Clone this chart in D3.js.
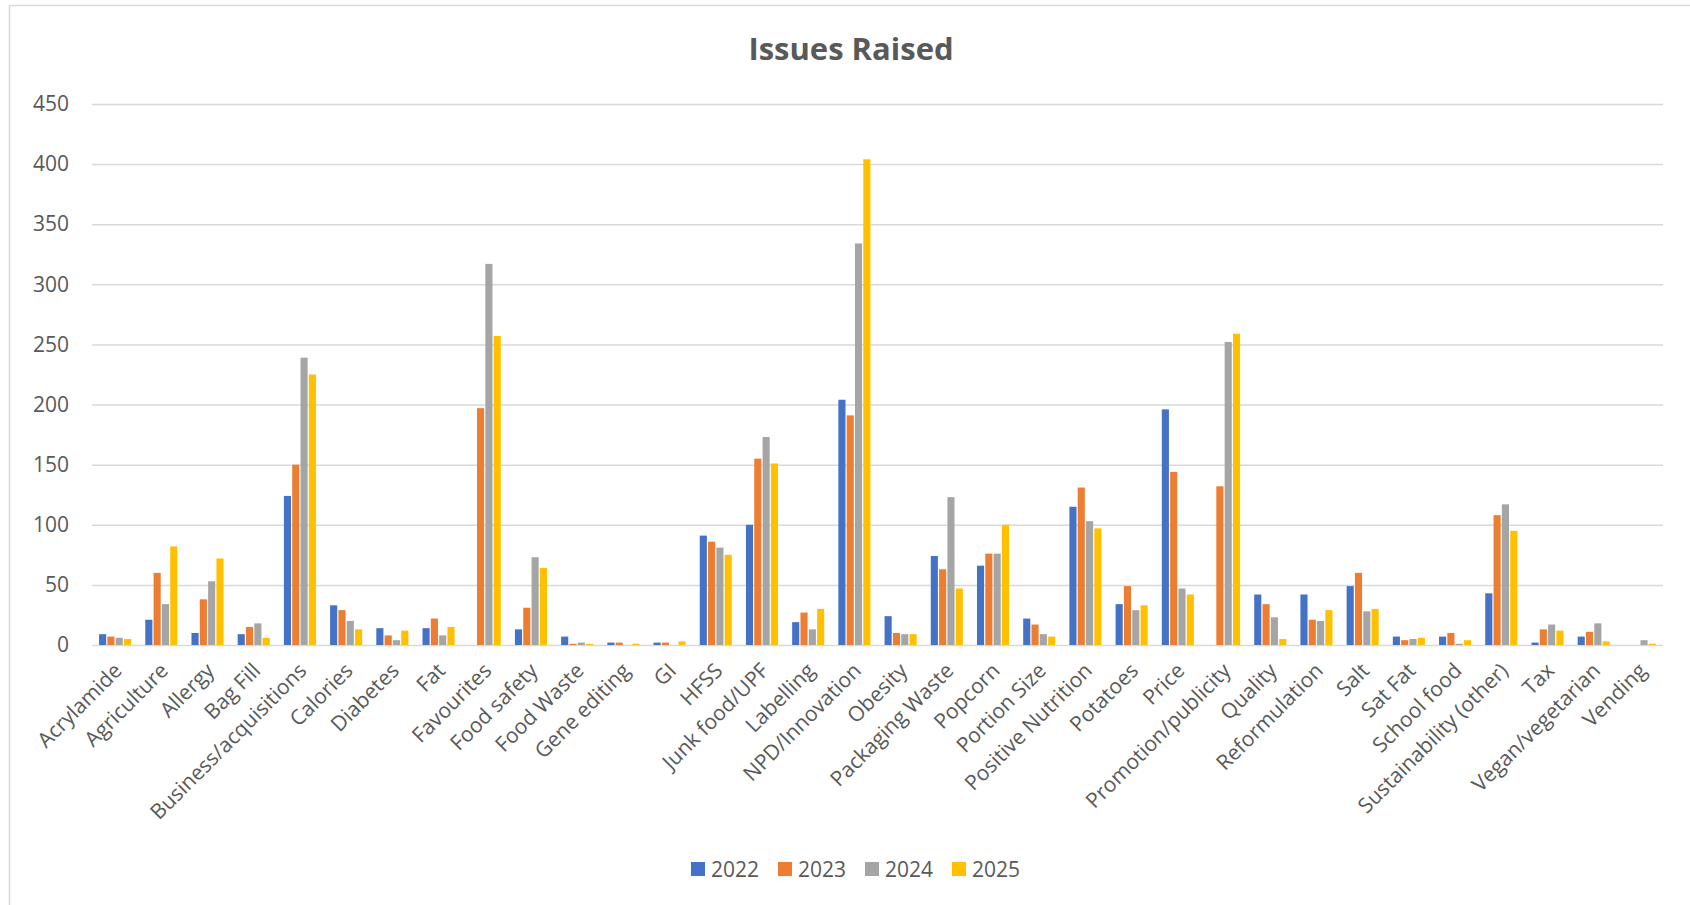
<!DOCTYPE html>
<html>
<head>
<meta charset="utf-8">
<script src="https://cdn.jsdelivr.net/npm/d3@7/dist/d3.min.js"></script>
<style>
  body { margin: 0; background: #fff; }
  svg { display: block; font-family: 'Open Sans', sans-serif; }
</style>
</head>
<body>
<svg id="chart"></svg>
<script>
const categories = ["Acrylamide", "Agriculture", "Allergy", "Bag Fill", "Business/acquisitions", "Calories",
    "Diabetes", "Fat", "Favourites", "Food safety", "Food Waste", "Gene editing", "GI", "HFSS",
    "Junk food/UPF", "Labelling", "NPD/Innovation", "Obesity", "Packaging Waste", "Popcorn",
    "Portion Size", "Positive Nutrition", "Potatoes", "Price", "Promotion/publicity", "Quality",
    "Reformulation", "Salt", "Sat Fat", "School food", "Sustainability (other)", "Tax",
    "Vegan/vegetarian", "Vending"];
const years = ["2022", "2023", "2024", "2025"];
const values2022 = [9, 21, 10, 9, 124, 33, 14, 14, 0, 13, 7, 2, 2, 91, 100, 19, 204, 24, 74, 66, 22, 115, 34, 196, 0, 42, 42, 49, 7, 7, 43, 2, 7, 0];
const values2023 = [7, 60, 38, 15, 150, 29, 8, 22, 197, 31, 1, 2, 2, 86, 155, 27, 191, 10, 63, 76, 17, 131, 49, 144, 132, 34, 21, 60, 4, 10, 108, 13, 11, 0];
const values2024 = [6, 34, 53, 18, 239, 20, 4, 8, 317, 73, 2, 0, 0, 81, 173, 13, 334, 9, 123, 76, 9, 103, 29, 47, 252, 23, 20, 28, 5, 1, 117, 17, 18, 4];
const values2025 = [5, 82, 72, 6, 225, 13, 12, 15, 257, 64, 1, 1, 3, 75, 151, 30, 404, 9, 47, 100, 7, 97, 33, 42, 259, 5, 29, 30, 6, 4, 95, 12, 3, 1];
const yTicks = [0, 50, 100, 150, 200, 250, 300, 350, 400, 450];
const colors = ["#4472C4", "#ED7D31", "#A5A5A5", "#FFC000"];

const seriesValues = [values2022, values2023, values2024, values2025];

const width = 1690;
const height = 905;
const plot = { left: 92, right: 1663, top: 104, bottom: 645 };

const svg = d3.select("#chart")
    .attr("width", width)
    .attr("height", height);

// chart area border
svg.append("rect")
    .attr("x", 9.5)
    .attr("y", 5.5)
    .attr("width", 1700)
    .attr("height", 940)
    .attr("fill", "#fff")
    .attr("stroke", "#d9d9d9")
    .attr("stroke-width", 1.5);

const x0 = d3.scaleBand()
    .domain(categories)
    .range([plot.left, plot.right])
    .paddingInner(0.28)
    .paddingOuter(0.14);

const x1 = d3.scaleBand()
    .domain(years)
    .range([0, x0.bandwidth()]);

const y = d3.scaleLinear()
    .domain([0, 450])
    .range([plot.bottom, plot.top]);

// gridlines + y labels
const yAxis = svg.append("g")
    .attr("transform", `translate(${plot.left},0)`)
    .call(d3.axisLeft(y).tickValues(yTicks).tickSize(-(plot.right - plot.left)).tickPadding(23));
yAxis.select(".domain").remove();
yAxis.selectAll(".tick line").attr("stroke", "#d9d9d9").attr("stroke-width", 1.5);
yAxis.selectAll(".tick text")
    .attr("fill", "#595959")
    .attr("font-size", "21px")
    .attr("font-family", "'Open Sans', sans-serif");

// bars
const groups = svg.append("g")
    .selectAll("g")
    .data(categories)
    .join("g")
    .attr("transform", d => `translate(${x0(d)},0)`);

groups.selectAll("rect")
    .data((d, i) => years.map((yr, s) => ({ year: yr, s: s, value: seriesValues[s][i] })))
    .join("rect")
    .attr("x", d => x1(d.year) + 0.6)
    .attr("y", d => y(d.value))
    .attr("width", x1.bandwidth() - 1.2)
    .attr("height", d => y(0) - y(d.value))
    .attr("fill", d => colors[d.s]);

// category labels
const xAxis = svg.append("g")
    .attr("transform", `translate(0,${plot.bottom})`)
    .call(d3.axisBottom(x0).tickSize(0).tickPadding(0));
xAxis.select(".domain").remove();
xAxis.selectAll(".tick text")
    .attr("fill", "#595959")
    .attr("font-size", "21px")
    .attr("font-family", "'Open Sans', sans-serif")
    .attr("text-anchor", "end")
    .attr("dy", 0)
    .attr("y", 0)
    .attr("transform", "translate(8,27) rotate(-45)");

// title
svg.append("text")
    .attr("x", 851)
    .attr("y", 60)
    .attr("text-anchor", "middle")
    .attr("font-size", "31px")
    .attr("font-weight", "bold")
    .attr("fill", "#595959")
    .text("Issues Raised");

// legend
const legendX = [691, 778, 865, 952];
const legend = svg.append("g")
    .selectAll("g")
    .data(years)
    .join("g")
    .attr("transform", (d, i) => `translate(${legendX[i]},862)`);
legend.append("rect")
    .attr("width", 14)
    .attr("height", 14)
    .attr("fill", (d, i) => colors[i]);
legend.append("text")
    .attr("x", 20)
    .attr("y", 14.5)
    .attr("font-size", "21px")
    .attr("fill", "#595959")
    .text(d => d);
</script>
</body>
</html>
